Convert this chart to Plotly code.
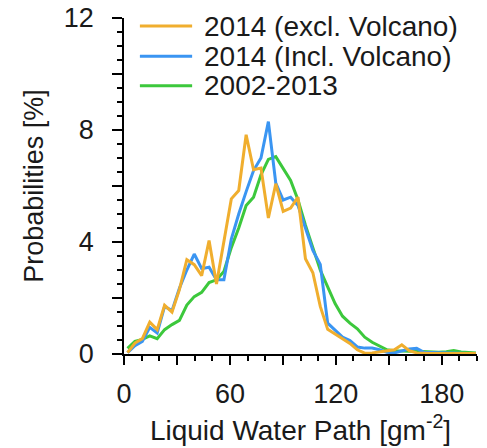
import plotly.graph_objects as go

# Liquid water path grid (g m^-2)
lwp = [2, 6.2, 10.4, 14.6, 18.8, 23, 27.2, 31.4, 35.6, 39.8, 44, 48.2, 52.4, 56.6,
       60.8, 65, 69.2, 73.4, 77.6, 81.8, 86, 90.2, 94.4, 98.6, 102.8, 107, 111.2,
       115.4, 119.6, 123.8, 128, 132.2, 136.4, 140.6, 144.8, 149, 153.2, 157.4,
       161.6, 165.8, 170, 174.2, 178.4, 182.6, 186.8, 191, 195.2, 199.4]

excl_volcano = [0.05, 0.39, 0.55, 1.14, 0.87, 1.74, 1.5, 2.3, 3.37, 3.19, 2.8, 4.05, 2.5, 4.0,
                5.54, 5.84, 7.83, 6.58, 6.64, 4.86, 6.08, 5.09, 5.21, 5.6, 3.4, 2.9, 1.7,
                0.88, 0.72, 0.57, 0.38, 0.15, 0.03, 0.04, 0.07, 0.1, 0.15, 0.33,
                0.12, 0.04, 0.02, 0.02, 0.02, 0.02, 0.02, 0.02, 0.02, 0.02]

incl_volcano = [0.05, 0.3, 0.45, 0.95, 0.75, 1.7, 1.55, 2.35, 3.0, 3.57, 3.05, 3.1, 2.65, 2.65,
                4.1, 5.0, 5.8, 6.55, 7.0, 8.3, 6.1, 5.5, 5.6, 5.3, 4.5, 3.7, 3.2,
                1.1, 0.85, 0.6, 0.48, 0.25, 0.21, 0.21, 0.15, 0.06, 0.04, 0.12,
                0.18, 0.2, 0.06, 0.05, 0.04, 0.03, 0.03, 0.03, 0.02, 0.02]

clim_2002_2013 = [0.2, 0.45, 0.52, 0.65, 0.55, 0.87, 1.05, 1.2, 1.75, 2.05, 2.2, 2.55, 2.65, 2.95,
                  3.8, 4.5, 5.3, 5.6, 6.4, 6.95, 7.05, 6.6, 6.2, 5.5, 4.6, 3.8, 3.0,
                  2.4, 1.8, 1.35, 1.1, 0.9, 0.6, 0.42, 0.27, 0.15, 0.12, 0.1,
                  0.1, 0.1, 0.08, 0.07, 0.06, 0.08, 0.12, 0.07, 0.05, 0.04]

series_names = ["2014 (excl. Volcano)", "2014 (Incl. Volcano)", "2002-2013"]
series_colors = ["#F0AE2E", "#3A95F2", "#3CC83C"]

FONT = "Liberation Sans, Arial, Helvetica, sans-serif"

fig = go.Figure()
# draw order: green, blue, orange on top
for ys, name, col in [(clim_2002_2013, series_names[2], series_colors[2]),
                      (incl_volcano, series_names[1], series_colors[1]),
                      (excl_volcano, series_names[0], series_colors[0])]:
    fig.add_trace(go.Scatter(x=lwp, y=ys, mode="lines", name=name,
                             line=dict(color=col, width=3), showlegend=False))

# manual legend (line keys + text)
legend_y = [0.976, 0.886, 0.798]
for i, (name, col) in enumerate(zip(series_names, series_colors)):
    fig.add_shape(type="line", xref="paper", yref="paper",
                  x0=0.045, x1=0.193, y0=legend_y[i], y1=legend_y[i],
                  line=dict(color=col, width=3))
    fig.add_annotation(xref="paper", yref="paper", x=0.222, y=legend_y[i],
                       xanchor="left", yanchor="middle", text=name, showarrow=False,
                       font=dict(family=FONT, size=28, color="#1a1a1a"))

fig.update_layout(
    width=487, height=448,
    margin=dict(l=124, r=10, t=18, b=94),
    plot_bgcolor="white", paper_bgcolor="white",
    font=dict(family=FONT, size=27, color="#1a1a1a"),
    showlegend=False,
)
fig.update_xaxes(
    range=[0, 200], tickmode="linear", tick0=0, dtick=30, ticklabelstep=2,
    ticks="outside", ticklen=9, tickwidth=1.5, tickcolor="black",
    showline=True, linecolor="black", linewidth=1.5,
    showgrid=False, zeroline=False, ticklabelstandoff=6,
    tickfont=dict(family=FONT, size=27, color="#1a1a1a"),
    minor=dict(tickmode="linear", tick0=0, dtick=10, ticks="outside",
               ticklen=5, tickwidth=1.5, tickcolor="black", showgrid=False),
    title=dict(text="Liquid Water Path [gm<sup>-2</sup>]", standoff=12,
               font=dict(family=FONT, size=28, color="#1a1a1a")),
    automargin=False,
)
fig.update_yaxes(
    range=[0, 12], tickmode="linear", tick0=0, dtick=2, ticklabelstep=2,
    ticks="outside", ticklen=10, tickwidth=1.5, tickcolor="black",
    showline=True, linecolor="black", linewidth=1.5,
    showgrid=False, zeroline=False, ticklabelstandoff=13,
    tickfont=dict(family=FONT, size=27, color="#1a1a1a"),
    minor=dict(tickmode="linear", tick0=0, dtick=0.5, ticks="outside",
               ticklen=5, tickwidth=1.5, tickcolor="black", showgrid=False),
    title=dict(text="Probabilities [%]", standoff=12,
               font=dict(family=FONT, size=27, color="#1a1a1a")),
    automargin=False,
)

fig.write_html("out.html")
